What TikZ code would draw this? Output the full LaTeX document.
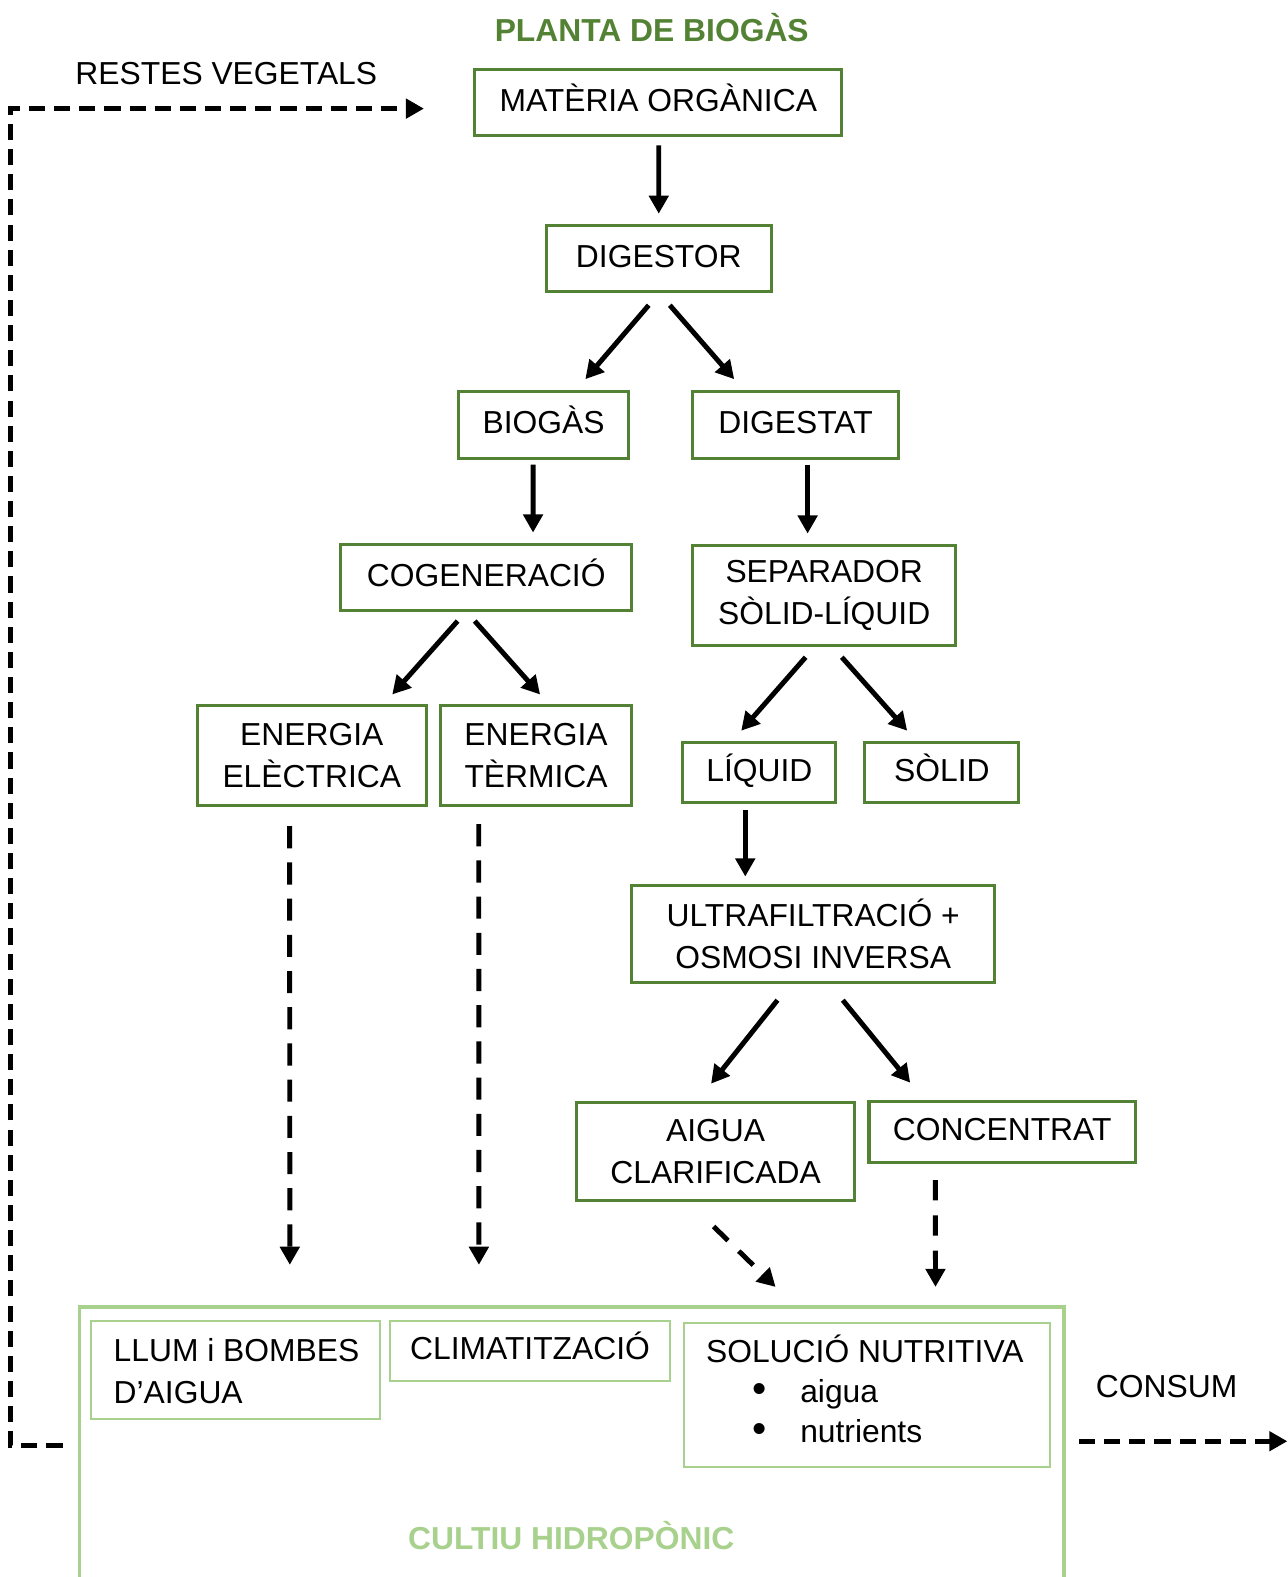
\documentclass[tikz,border=0pt]{standalone}
\usepackage{fontspec}
\setmainfont{Liberation Sans}
\usepackage{xcolor}
\usepackage{tikz}
\usetikzlibrary{positioning, arrows.meta, calc}
\definecolor{LeafDark} {HTML}{548235}
\definecolor{LeafLight}{HTML}{A9D18E}
\newcommand{\nutbullet}{\hspace*{0.92cm}{\fontsize{23}{22}\selectfont\textbullet}\hspace{0.67cm}}

\tikzset{
  stagebox/.style={draw=LeafDark, line width=1.7pt, minimum height=1.32cm,
                   align=center, inner sep=0pt,
                   font=\fontsize{18}{23.5}\selectfont},
  oneline/.style={text height=14pt, text depth=4pt},
  cropbox/.style={draw=LeafLight, line width=1.2pt, inner sep=0pt,
                  font=\fontsize{18}{23.5}\selectfont},
  croptext/.style={anchor=north west, align=left, inner sep=0pt},
  plainlabel/.style={font=\fontsize{18}{23.5}\selectfont},
  flow/.style={line width=2.8pt, -{Triangle[length=0.36cm,width=0.38cm]}},
  feed/.style={flow, dash pattern=on 0.44cm off 0.28cm},
  loop/.style={flow, dash pattern=on 0.32cm off 0.18cm}
}

\begin{document}
\begin{tikzpicture}[x=0.02cm, y=-0.02cm]
      \useasboundingbox (0,0) rectangle (1280,1568);

      % titols
      \node[plainlabel, font=\fontsize{18}{23.5}\selectfont\bfseries, text=LeafDark] (title) at (648,27) {PLANTA DE BIOGÀS};
      \node[plainlabel] (restes) at (225,73) {RESTES VEGETALS};
      \node[plainlabel] (consum) at (1160,1379) {CONSUM};

      % planta
      \node[stagebox, oneline, minimum width=7.3cm] (mat)  at (654.5,102)  {MATÈRIA ORGÀNICA};
      \node[stagebox, oneline, minimum width=4.48cm] (dig) at (655,257)    {DIGESTOR};
      \node[stagebox, oneline, minimum width=3.38cm] (bio) at (540.5,422.5) {BIOGÀS};
      \node[stagebox, oneline, minimum width=4.08cm] (dgt) at (791,422.5)  {DIGESTAT};
      \node[stagebox, oneline, minimum width=5.78cm] (cog) at (483.5,574)  {COGENERACIÓ};
      \node[stagebox, minimum width=5.22cm, minimum height=2cm] (sep) at (819.5,592) {SEPARADOR\\SÒLID-LÍQUID};
      \node[stagebox, minimum width=4.56cm, minimum height=2cm] (elec) at (310,751) {ENERGIA\\ELÈCTRICA};
      \node[stagebox, minimum width=3.8cm, minimum height=2cm] (term) at (533,751) {ENERGIA\\TÈRMICA};
      \node[stagebox, oneline, minimum width=3.04cm, minimum height=1.2cm] (liq) at (755,768) {LÍQUID};
      \node[stagebox, oneline, minimum width=3.06cm, minimum height=1.2cm] (sol) at (936.5,768) {SÒLID};
      \node[stagebox, minimum width=7.22cm, minimum height=1.94cm] (ult) at (808.5,928.5) {ULTRAFILTRACIÓ +\\OSMOSI INVERSA};
      \node[stagebox, minimum width=5.54cm, minimum height=1.96cm] (aig) at (711.5,1145) {AIGUA\\CLARIFICADA};
      \node[stagebox, oneline, minimum width=5.3cm, minimum height=1.22cm] (conc) at (996.5,1125.5) {CONCENTRAT};

      % cultiu
      \node[draw=LeafLight, line width=2.2pt, minimum width=19.58cm, minimum height=5.5cm] (cult) at (568.5,1437) {};
      \node[font=\fontsize{18}{23.5}\selectfont\bfseries, text=LeafLight] (cultlabel) at (568,1527) {CULTIU HIDROPÒNIC};
      \node[cropbox, anchor=north west, minimum width=5.76cm, minimum height=1.96cm] (llum) at (89,1312) {};
      \node[cropbox, croptext, font=\fontsize{18}{23.8}\selectfont, draw=none] (llumtext) at ($(llum.north west)+(23,17.5)$) {LLUM i BOMBES\\D’AIGUA};
      \node[cropbox, oneline, anchor=north west, minimum width=5.56cm, minimum height=1.2cm] (clima) at (387,1312) {CLIMATITZACIÓ};
      \node[cropbox, anchor=north west, minimum width=7.28cm, minimum height=2.88cm] (nutri) at (679,1314) {};
      \node[cropbox, croptext, font=\fontsize{18}{22.7}\selectfont, draw=none] (nutritext) at ($(nutri.north west)+(22,12.5)$)
            {SOLUCIÓ NUTRITIVA\\\nutbullet aigua\\\nutbullet nutrients};

      % fluxos
      \draw[flow] ($(mat.south)+(0.5,8)$) -- ($(dig.north)+(0,-10)$);
      \draw[flow] ($(dig.south)+(-10,12)$) -- ($(bio.north)+(41.5,-11)$);
      \draw[flow] ($(dig.south)+(11,12)$) -- ($(dgt.north)+(-61,-11)$);
      \draw[flow] ($(bio.south)+(-10.5,5)$) -- ($(cog.north)+(46.5,-10)$);
      \draw[flow] ($(dgt.south)+(12,5)$) -- ($(sep.north)+(-16.5,-10)$);
      \draw[flow] ($(cog.south)+(-28.5,9)$) -- ($(elec.north)+(80,-9)$);
      \draw[flow] ($(cog.south)+(-11.5,9)$) -- ($(term.north)+(4,-9)$);
      \draw[flow] ($(sep.south)+(-18.5,10)$) -- ($(liq.north)+(-18,-10)$);
      \draw[flow] ($(sep.south)+(17.5,10)$) -- ($(sol.north)+(-34.5,-10)$);
      \draw[flow] ($(liq.south)+(-14,6)$) -- ($(ult.north)+(-67.5,-7)$);
      \draw[flow] ($(ult.south)+(-35.5,16)$) -- ($(aig.north)+(-4.5,-17)$);
      \draw[flow] ($(ult.south)+(29.5,16)$) -- ($(conc.north)+(-91.5,-17)$);

      % cap al cultiu
      \draw[feed] ($(elec.south)+(-22,19)$) -- ($(cult.north west)+(211,-40)$);
      \draw[feed] ($(term.south)+(-57,17)$) -- ($(cult.north west)+(399,-40)$);
      \draw[feed, dash pattern=on 0.4cm off 0.3cm] ($(aig.south)+(-2,24)$) -- ($(cult.north west)+(694,-18)$);
      \draw[feed, dash pattern=on 0.4cm off 0.3cm] ($(conc.south)+(-66.5,16)$) -- ($(cult.north west)+(853,-18)$);

      % restes i consum
      \coordinate (consumEnd) at (1280,1433);
      \draw[loop] ($(cult.west)+(-15,0)$) -- ++(-52,0) |- ($(mat.west)+(-49,6)$);
      \draw[loop] ($(cult.east)+(13,-4)$) -- (consumEnd);
    \end{tikzpicture}
\end{document}
